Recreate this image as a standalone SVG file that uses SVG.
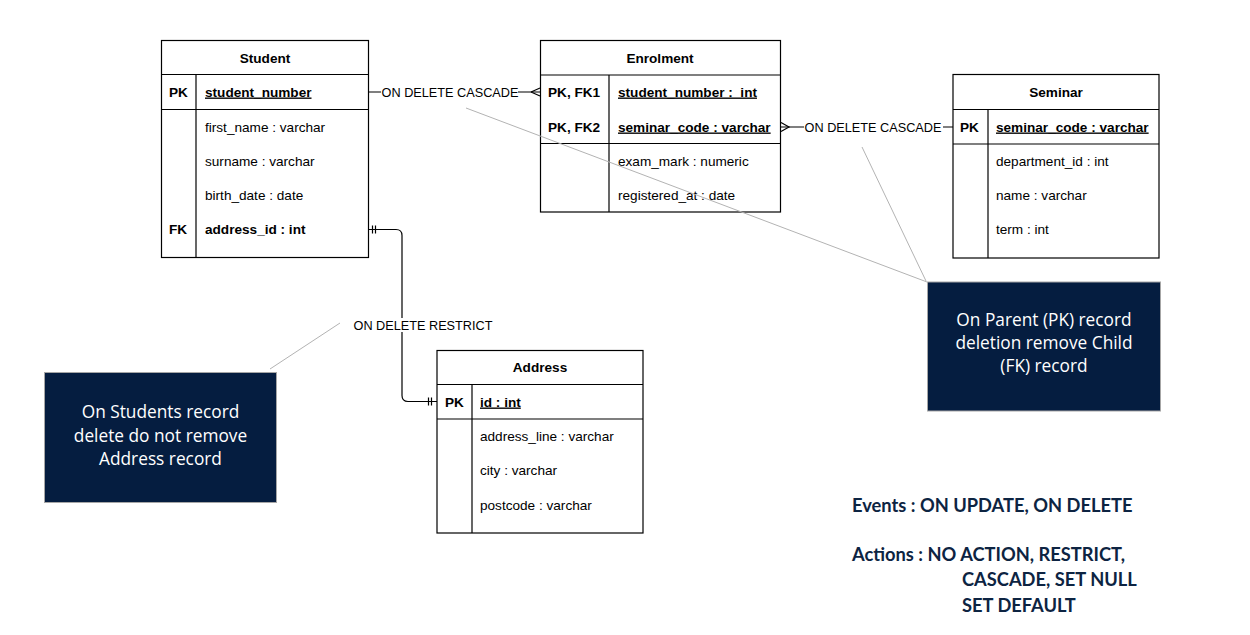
<svg xmlns="http://www.w3.org/2000/svg" width="1250" height="635" viewBox="0 0 1250 635">
<style>
.tbl{fill:#fff;stroke:#000;stroke-width:1.2}
.ln{stroke:#000;stroke-width:1.2;fill:none}
.t{font-family:"Liberation Sans",Arial,sans-serif;font-size:13.6px;fill:#000;white-space:pre}
.b{font-weight:bold}
.h{font-weight:bold;text-anchor:middle}
.u{text-decoration:underline}
.lbl{font-family:"Liberation Sans",Arial,sans-serif;font-size:12.7px;fill:#000;text-anchor:middle}
.note{fill:#051d40;stroke:#a6a6a6;stroke-width:1}
.nt{font-family:"Open Sans","Noto Sans",sans-serif;font-size:17.3px;fill:#fff;text-anchor:middle}
.gray{stroke:#b3b3b3;stroke-width:1;fill:none}
.leg{font-family:Lato,"Noto Sans",sans-serif;font-size:18.3px;font-weight:bold;fill:#0d2442}
</style>

<g id="connectors">
<!-- Student -> Enrolment -->
<line class="ln" x1="368" y1="92" x2="540" y2="92"/>
<path class="ln" d="M531,92 L540,88 M531,92 L540,96"/>
<rect x="381" y="85" width="137" height="14" fill="#fff"/>
<text class="lbl" x="450" y="96.5">ON DELETE CASCADE</text>
<!-- Enrolment -> Seminar -->
<line class="ln" x1="781" y1="127" x2="953" y2="127"/>
<path class="ln" d="M781,122.5 L789,127 L781,131.5"/>
<rect x="804" y="120" width="139" height="14" fill="#fff"/>
<text class="lbl" x="873" y="131.5">ON DELETE CASCADE</text>
<!-- Student -> Address -->
<path class="ln" d="M368,229.5 H396 Q402,229.5 402,235.5 V395.5 Q402,401.5 408,401.5 H437"/>
<path class="ln" d="M372.5,225.5 V233.5 M375.5,225.5 V233.5 M428.5,397.5 V405.5 M431.5,397.5 V405.5"/>
<rect x="351" y="318" width="144" height="14" fill="#fff"/>
<text class="lbl" x="423" y="329.5">ON DELETE RESTRICT</text>
</g>

<g id="student">
<rect class="tbl" x="161.5" y="40.5" width="207" height="217"/>
<line class="ln" x1="161.5" y1="74.5" x2="368.5" y2="74.5"/>
<line class="ln" x1="161.5" y1="109.5" x2="368.5" y2="109.5"/>
<line class="ln" x1="196" y1="74.5" x2="196" y2="257.5"/>
<text class="t h" x="265" y="62.5">Student</text>
<text class="t b" x="169" y="96.5">PK</text>
<text class="t b u" x="205" y="96.5">student_number</text>
<text class="t" x="205" y="131.5">first_name : varchar</text>
<text class="t" x="205" y="165.5">surname : varchar</text>
<text class="t" x="205" y="199.5">birth_date : date</text>
<text class="t b" x="169" y="233.5">FK</text>
<text class="t b" x="205" y="233.5">address_id : int</text>
</g>

<g id="enrolment">
<rect class="tbl" x="540.5" y="40.5" width="240" height="171.5"/>
<line class="ln" x1="540.5" y1="75" x2="780.5" y2="75"/>
<line class="ln" x1="540.5" y1="143.5" x2="780.5" y2="143.5"/>
<line class="ln" x1="609" y1="75" x2="609" y2="212"/>
<text class="t h" x="660" y="62.5">Enrolment</text>
<text class="t b" x="548" y="96.5">PK, FK1</text>
<text class="t b u" x="618" y="96.5">student_number :  int</text>
<text class="t b" x="548" y="131.5">PK, FK2</text>
<text class="t b u" x="618" y="131.5">seminar_code : varchar</text>
<text class="t" x="618" y="165.5">exam_mark : numeric</text>
<text class="t" x="618" y="199.5">registered_at : date</text>
</g>

<g id="seminar">
<rect class="tbl" x="953" y="74.5" width="206" height="183.5"/>
<line class="ln" x1="953" y1="109.5" x2="1159" y2="109.5"/>
<line class="ln" x1="953" y1="144" x2="1159" y2="144"/>
<line class="ln" x1="988" y1="109.5" x2="988" y2="258"/>
<text class="t h" x="1056" y="96.5">Seminar</text>
<text class="t b" x="960" y="131.5">PK</text>
<text class="t b u" x="996" y="131.5">seminar_code : varchar</text>
<text class="t" x="996" y="165.5">department_id : int</text>
<text class="t" x="996" y="199.5">name : varchar</text>
<text class="t" x="996" y="233.5">term : int</text>
</g>

<g id="address">
<rect class="tbl" x="437" y="350.5" width="206" height="182.5"/>
<line class="ln" x1="437" y1="384.5" x2="643" y2="384.5"/>
<line class="ln" x1="437" y1="419" x2="643" y2="419"/>
<line class="ln" x1="472" y1="384.5" x2="472" y2="533"/>
<text class="t h" x="540" y="371.5">Address</text>
<text class="t b" x="445" y="406.5">PK</text>
<text class="t b u" x="480" y="406.5">id : int</text>
<text class="t" x="480" y="440.5">address_line : varchar</text>
<text class="t" x="480" y="474.5">city : varchar</text>
<text class="t" x="480" y="509.5">postcode : varchar</text>
</g>

<g id="annotation-lines">
<line class="gray" x1="466" y1="108" x2="927" y2="282"/>
<line class="gray" x1="862" y1="147" x2="926" y2="281"/>
<line class="gray" x1="340" y1="323" x2="270" y2="369"/>
</g>

<g id="note-restrict">
<rect class="note" x="44.5" y="372.5" width="232" height="130"/>
<text class="nt" x="160.5" y="418">On Students record</text>
<text class="nt" x="160.5" y="441.5">delete do not remove</text>
<text class="nt" x="160.5" y="465">Address record</text>
</g>

<g id="note-cascade">
<rect class="note" x="927.5" y="282" width="233" height="129"/>
<text class="nt" x="1044" y="326">On Parent (PK) record</text>
<text class="nt" x="1044" y="349">deletion remove Child</text>
<text class="nt" x="1044" y="372">(FK) record</text>
</g>

<g id="legend">
<text class="leg" x="852" y="512">Events : ON UPDATE, ON DELETE</text>
<text class="leg" x="852" y="561">Actions : NO ACTION, RESTRICT,</text>
<text class="leg" x="962" y="586">CASCADE, SET NULL</text>
<text class="leg" x="962" y="612">SET DEFAULT</text>
</g>
</svg>
